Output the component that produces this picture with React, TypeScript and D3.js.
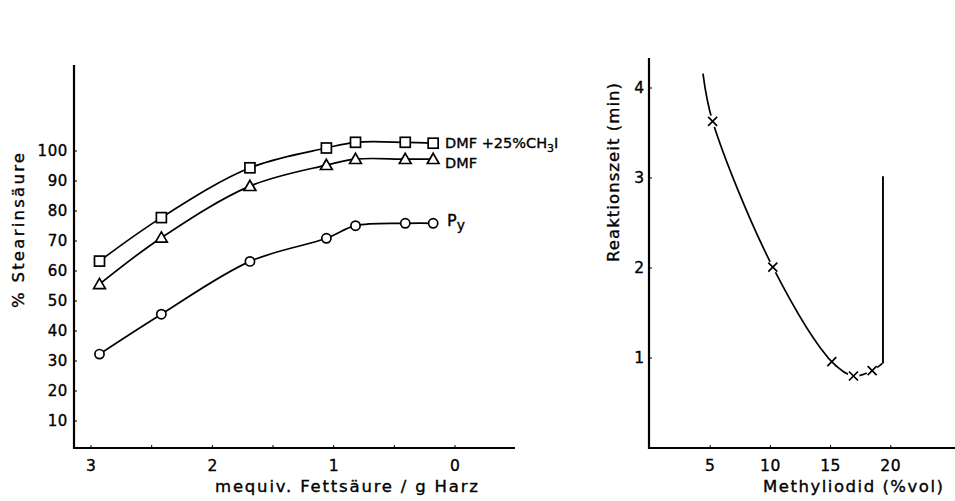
import * as d3 from 'd3';

// left panel: % Stearinsäure vs mequiv. Fettsäure / g Harz
const mequiv = [2.93, 2.42, 1.69, 1.06, 0.82, 0.41, 0.18];
const dmfCh3i = [63.3, 77.8, 94.4, 101, 102.9, 102.9, 102.6];
const dmf = [55.6, 71.1, 88.3, 95.3, 97.3, 97.3, 97.3];
const py = [32.3, 45.6, 63.2, 70.9, 75.1, 75.9, 75.9];
const leftYTicks = [10, 20, 30, 40, 50, 60, 70, 80, 90, 100];
const leftXTicks = [3, 2, 1, 0];
const leftXMinor = [2.5, 1.5, 0.5];

// right panel: Reaktionszeit vs Methyliodid
const miPoints = [5.2, 10.2, 15.1, 16.9, 18.45];
const miTimes = [3.63, 2.01, 0.96, 0.8, 0.86];
const curveX = [4.4, 5.2, 10.2, 15.1, 16.9, 18.45, 19.3];
const curveY = [4.16, 3.63, 2.01, 0.96, 0.8, 0.86, 0.94];
const riseX = [19.35, 19.35];
const riseY = [0.94, 3.02];
const rightYTicks = [1, 2, 3, 4];
const rightXTicks = [5, 10, 15, 20];

const FONT = "'DejaVu Sans', sans-serif";
const txt = { fontFamily: FONT, stroke: '#000', strokeWidth: 0.35 };

const LeftChart = () => {
  const x = d3.scaleLinear().domain([3, 0]).range([91, 455]);
  const y = d3.scaleLinear().domain([0, 100]).range([451, 151]);
  const axisY = 448;
  const axisX = 74;

  const line = d3
    .line<[number, number]>()
    .x((d) => x(d[0]))
    .y((d) => y(d[1]))
    .curve(d3.curveCatmullRom.alpha(0.5));

  const series = [dmfCh3i, dmf, py].map((vals) =>
    mequiv.map((m, i) => [m, vals[i]] as [number, number])
  );

  const tri = d3.symbol().type(d3.symbolTriangle).size(60);

  return (
    <g>
      {series.map((s, i) => (
        <path key={i} d={line(s) ?? ''} fill="none" stroke="#000" strokeWidth={1.7} />
      ))}
      {series[0].map((d, i) => (
        <rect key={'s' + i} x={x(d[0]) - 5} y={y(d[1]) - 5} width={10} height={10}
          fill="#fff" stroke="#000" strokeWidth={1.7} />
      ))}
      {series[1].map((d, i) => (
        <path key={'t' + i} d={tri() ?? ''} transform={`translate(${x(d[0])},${y(d[1]) + 1})`}
          fill="#fff" stroke="#000" strokeWidth={1.7} />
      ))}
      {series[2].map((d, i) => (
        <circle key={'c' + i} cx={x(d[0])} cy={y(d[1])} r={4.6}
          fill="#fff" stroke="#000" strokeWidth={1.7} />
      ))}

      {/* axes */}
      <line x1={axisX} x2={axisX} y1={65} y2={axisY + 1} stroke="#000" strokeWidth={2.2} />
      <line x1={axisX - 1} x2={515} y1={axisY} y2={axisY} stroke="#000" strokeWidth={2.2} />
      {leftYTicks.map((t) => (
        <g key={t}>
          <line x1={axisX} x2={axisX + 3} y1={y(t)} y2={y(t)} stroke="#000" strokeWidth={1} />
          <text x={axisX - 6} y={y(t)} textAnchor="end" dominantBaseline="central"
            fontSize={15} letterSpacing={0.6} {...txt}>{t}</text>
        </g>
      ))}
      {leftXTicks.map((t) => (
        <g key={t}>
          <line x1={x(t)} x2={x(t)} y1={axisY} y2={axisY - 3} stroke="#000" strokeWidth={1} />
          <text x={x(t)} y={466} textAnchor="middle" dominantBaseline="central"
            fontSize={15.5} {...txt}>{t}</text>
        </g>
      ))}
      {leftXMinor.map((t) => (
        <line key={t} x1={x(t)} x2={x(t)} y1={axisY} y2={axisY - 3} stroke="#000" strokeWidth={1} />
      ))}

      {/* series labels */}
      <text x={445} y={143} dominantBaseline="central" fontSize={14.5} {...txt}>
        DMF +25%CH<tspan fontSize={11} dy={5}>3</tspan><tspan dy={-5}>I</tspan>
      </text>
      <text x={445} y={163} dominantBaseline="central" fontSize={14.5} {...txt}>DMF</text>
      <text x={447} y={220} dominantBaseline="central" fontSize={16} {...txt}>
        P<tspan fontSize={14} dy={5}>y</tspan>
      </text>

      {/* axis titles */}
      <text x={215} y={492} fontSize={16.5} textLength={263} lengthAdjust="spacing" {...txt}>
        mequiv.  Fettsäure / g Harz
      </text>
      <text transform="translate(18,308) rotate(-90)" dominantBaseline="central"
        fontSize={16.5} textLength={155} lengthAdjust="spacing" {...txt}>%  Stearinsäure</text>
    </g>
  );
};

const RightChart = () => {
  const x = d3.scaleLinear().domain([0, 25]).range([650, 951]);
  const y = d3.scaleLinear().domain([0, 4]).range([448, 88]);
  const axisY = 448;
  const axisX = 649;

  const curve = d3
    .line<number>()
    .x((d) => x(d))
    .y((_, i) => y(curveY[i]))
    .curve(d3.curveCatmullRom.alpha(0.5));

  const rise = d3
    .line<number>()
    .x((d) => x(d))
    .y((_, i) => y(riseY[i]));

  return (
    <g>
      <path d={curve(curveX) ?? ''} fill="none" stroke="#000" strokeWidth={1.7} />
      <path d={rise(riseX) ?? ''} fill="none" stroke="#000" strokeWidth={1.9} />
      {miPoints.map((m, i) => (
        <g key={i} transform={`translate(${x(m)},${y(miTimes[i])})`}>
          <circle r={6} fill="#fff" />
          <path d="M-4.5,-4.5L4.5,4.5M-4.5,4.5L4.5,-4.5" stroke="#000" strokeWidth={1.7} />
        </g>
      ))}

      <line x1={axisX} x2={axisX} y1={58} y2={axisY + 1} stroke="#000" strokeWidth={2.2} />
      <line x1={axisX - 1} x2={955} y1={axisY} y2={axisY} stroke="#000" strokeWidth={2.2} />
      {rightYTicks.map((t) => (
        <g key={t}>
          <line x1={axisX} x2={axisX + 3} y1={y(t)} y2={y(t)} stroke="#000" strokeWidth={1} />
          <text x={axisX - 5} y={y(t)} textAnchor="end" dominantBaseline="central"
            fontSize={15.5} {...txt}>{t}</text>
        </g>
      ))}
      {rightXTicks.map((t) => (
        <g key={t}>
          <line x1={x(t)} x2={x(t)} y1={axisY} y2={axisY - 3} stroke="#000" strokeWidth={1} />
          <text x={x(t)} y={466} textAnchor="middle" dominantBaseline="central"
            fontSize={15.5} letterSpacing={0.6} {...txt}>{t}</text>
        </g>
      ))}

      <text x={763} y={492} fontSize={16.5} textLength={180} lengthAdjust="spacing" {...txt}>
        Methyliodid  (%vol)
      </text>
      <text transform="translate(613,262) rotate(-90)" dominantBaseline="central"
        fontSize={16.5} textLength={179} lengthAdjust="spacing" {...txt}>Reaktionszeit (min)</text>
    </g>
  );
};

export default function App() {
  return (
    <svg width={955} height={501} style={{ position: 'absolute', left: 0, top: 0, background: '#fff' }}>
      <rect width={955} height={501} fill="#fff" />
      <LeftChart />
      <RightChart />
    </svg>
  );
}
